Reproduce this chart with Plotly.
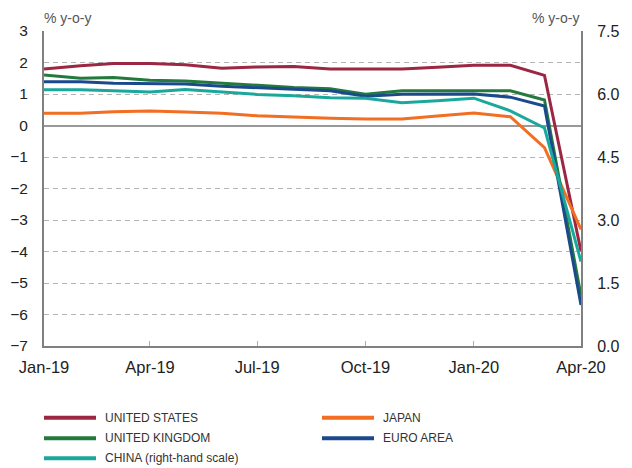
import plotly.graph_objects as go

months = ["2019-01-01", "2019-02-01", "2019-03-01", "2019-04-01", "2019-05-01", "2019-06-01",
          "2019-07-01", "2019-08-01", "2019-09-01", "2019-10-01", "2019-11-01", "2019-12-01",
          "2020-01-01", "2020-02-01", "2020-03-01", "2020-04-01"]

united_states = [1.79, 1.90, 1.97, 1.97, 1.93, 1.82, 1.86, 1.87, 1.79, 1.78, 1.79, 1.85, 1.91, 1.91, 1.59, -4.0]
japan = [0.39, 0.39, 0.44, 0.46, 0.43, 0.39, 0.31, 0.26, 0.23, 0.21, 0.21, 0.30, 0.40, 0.28, -0.70, -3.3]
united_kingdom = [1.60, 1.50, 1.52, 1.44, 1.41, 1.34, 1.29, 1.21, 1.17, 0.99, 1.10, 1.10, 1.10, 1.10, 0.81, -5.4]
euro_area = [1.39, 1.39, 1.34, 1.34, 1.32, 1.25, 1.19, 1.15, 1.10, 0.93, 0.99, 1.00, 1.00, 0.90, 0.62, -5.7]
china_rhs = [6.10, 6.10, 6.08, 6.05, 6.11, 6.04, 5.99, 5.96, 5.91, 5.90, 5.79, 5.84, 5.90, 5.60, 5.19, 2.01]

left_ticks = [3, 2, 1, 0, -1, -2, -3, -4, -5, -6, -7]
right_ticks = [7.5, 6.0, 4.5, 3.0, 1.5, 0.0]
x_ticks = ["2019-01-01", "2019-04-01", "2019-07-01", "2019-10-01", "2020-01-01", "2020-04-01"]
x_tick_labels = ["Jan-19", "Apr-19", "Jul-19", "Oct-19", "Jan-20", "Apr-20"]

C_US = "#9B2743"
C_JP = "#F26E22"
C_UK = "#247A3C"
C_EA = "#1B4A8C"
C_CN = "#1BA89C"

FONT = "Liberation Sans, Arial, sans-serif"

# The page body has an 8px default margin, so figure pixel = page pixel - 8.
OFF = 8
W, H = 632, 468
L, T = 44 - OFF, 31 - OFF
R, B = W - (581 - OFF), H - (346 - OFF)
PW, PH = W - L - R, H - T - B

def px_x(px):
    """page pixel x -> paper coordinate"""
    return (px - OFF - L) / PW

def px_y(py):
    """page pixel y -> paper coordinate"""
    return (H - B - (py - OFF)) / PH

fig = go.Figure()

series = [
    ("CHINA (right-hand scale)", china_rhs, C_CN, "y2"),
    ("UNITED STATES", united_states, C_US, "y"),
    ("JAPAN", japan, C_JP, "y"),
    ("UNITED KINGDOM", united_kingdom, C_UK, "y"),
    ("EURO AREA", euro_area, C_EA, "y"),
]
for name, y, color, axis in series:
    fig.add_trace(go.Scatter(x=months, y=y, name=name, mode="lines",
                             line=dict(color=color, width=3), yaxis=axis,
                             hoverinfo="skip", showlegend=False))

fig.update_layout(
    width=W, height=H,
    margin=dict(l=L, r=R, t=T, b=B, autoexpand=False),
    paper_bgcolor="white", plot_bgcolor="white",
    font=dict(family=FONT, size=15, color="#222"),
    showlegend=False,
    xaxis=dict(type="date", range=["2019-01-01", "2020-04-01"], automargin=False,
               tickvals=x_ticks, ticktext=x_tick_labels,
               showgrid=False, showline=True, linecolor="#808080", linewidth=2,
               ticks="inside", ticklen=5, tickcolor="#b0b0b0", tickwidth=1,
               tickfont=dict(size=16.5, color="#222"), ticklabelstandoff=5,
               zeroline=False),
    yaxis=dict(range=[-7, 3], tickvals=left_ticks, showgrid=True, automargin=False,
               gridcolor="#b4b4b4", griddash="5px,4px", gridwidth=1,
               zeroline=True, zerolinecolor="#999999", zerolinewidth=1.5,
               showline=True, linecolor="#808080", linewidth=2,
               ticks="", tickfont=dict(size=15.5, color="#222"), ticklabelstandoff=11),
    yaxis2=dict(range=[0, 7.5], tickvals=right_ticks, tickformat=".1f", automargin=False,
                overlaying="y", side="right", showgrid=False, zeroline=False,
                showline=True, linecolor="#808080", linewidth=2,
                ticks="", tickfont=dict(size=16, color="#222"), ticklabelstandoff=11),
)

# axis unit labels
fig.add_annotation(text="% y-o-y", xref="paper", yref="paper", x=px_x(42), y=px_y(8),
                   xanchor="left", yanchor="top", showarrow=False,
                   font=dict(family=FONT, size=14, color="#555"))
fig.add_annotation(text="% y-o-y", xref="paper", yref="paper", x=px_x(581), y=px_y(8),
                   xanchor="right", yanchor="top", showarrow=False,
                   font=dict(family=FONT, size=14, color="#555"))

# legend (two columns), positions in page pixels
legend_items = [
    ("UNITED STATES", C_US, 44, 417.7),
    ("JAPAN", C_JP, 322, 417.7),
    ("UNITED KINGDOM", C_UK, 44, 438.3),
    ("EURO AREA", C_EA, 322, 438.3),
    ("CHINA (right-hand scale)", C_CN, 44, 458.3),
]
for name, color, x0, yy in legend_items:
    fig.add_shape(type="line", xref="paper", yref="paper",
                  x0=px_x(x0), x1=px_x(x0 + 52), y0=px_y(yy), y1=px_y(yy),
                  line=dict(color=color, width=4))
    fig.add_annotation(text=name, xref="paper", yref="paper", x=px_x(x0 + 59), y=px_y(yy),
                       xanchor="left", yanchor="middle", showarrow=False,
                       font=dict(family=FONT, size=12, color="#333"))

fig.write_html("out.html")
